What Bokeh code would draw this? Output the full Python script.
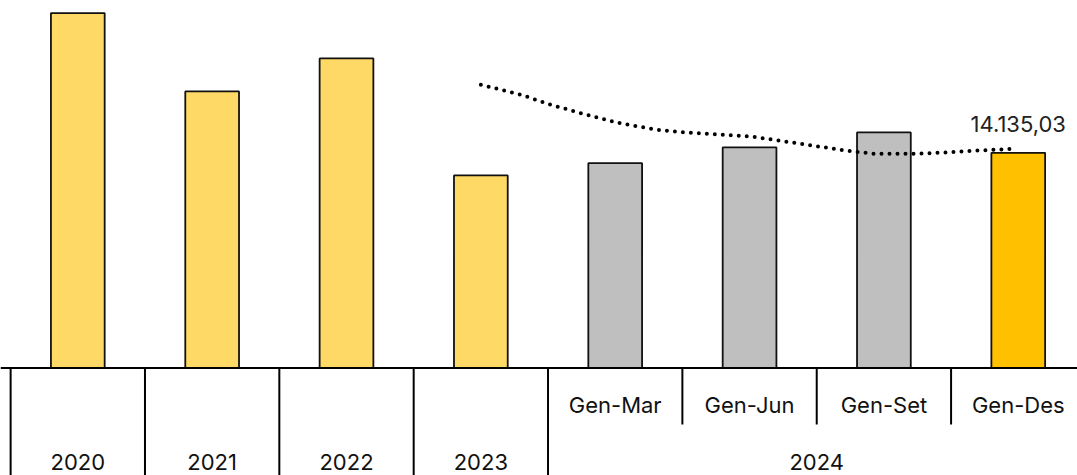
from bokeh.plotting import figure
from bokeh.models import Range1d, ColumnDataSource, Span
from bokeh.core.properties import value
from bokeh.embed import file_html
from bokeh.resources import INLINE

# ---- data ----
categories = ["2020", "2021", "2022", "2023", "Gen-Mar", "Gen-Jun", "Gen-Set", "Gen-Des"]
values = [23310, 18166, 20334, 12647, 13455, 14487, 15472, 14135.03]
bar_colors = ["#FFD966", "#FFD966", "#FFD966", "#FFD966", "#BFBFBF", "#BFBFBF", "#BFBFBF", "#FFC000"]
year_labels = ["2020", "2021", "2022", "2023"]
group_label = "2024"
sub_labels = ["Gen-Mar", "Gen-Jun", "Gen-Set", "Gen-Des"]
value_label = "14.135,03"

# dotted trend line (x in category index units)
trend_x = [3.0, 3.30, 3.52, 3.76, 4.02, 4.31, 4.56, 5.03, 5.43, 5.68, 5.92, 6.18, 6.42, 6.67, 6.96]
trend_y = [18604, 17947, 17290, 16698, 16106, 15646, 15446, 15186, 14660, 14331, 14068, 14068, 14135, 14266, 14397]

FONT = "Inter"
n = len(categories)
idx = list(range(n))

p = figure(width=1077, height=475, output_backend="svg", toolbar_location=None,
           x_range=Range1d(-0.5754, 7.441), y_range=Range1d(-7061, 24137),
           min_border=0)
p.xaxis.visible = False
p.yaxis.visible = False
p.grid.visible = False
p.outline_line_color = None
p.background_fill_color = "white"
p.border_fill_color = "white"

src = ColumnDataSource(dict(x=idx, top=values, color=bar_colors))
p.vbar(x="x", top="top", bottom=0, width=0.40, fill_color="color",
       line_color="#111111", line_width=1.8, source=src)

# trend
p.line(trend_x, trend_y, line_color="black", line_width=4, line_dash="0 8", line_cap="round")

# value label on last bar
p.text(x=[idx[-1]], y=[values[-1]], text=[value_label], text_align="center",
       text_baseline="alphabetic", y_offset=-29, text_font=value(FONT),
       text_font_size="22px", text_color="#222222")

# table under the axis
p.add_layout(Span(location=0, dimension="width", line_color="black", line_width=2))
ny = len(year_labels)
full_x = [i - 0.5 for i in range(ny + 1)]
p.segment(x0=full_x, y0=[0] * len(full_x), x1=full_x, y1=[-7061] * len(full_x),
          line_color="black", line_width=2)
short_x = [i + 0.5 for i in range(ny, n - 1)]
p.segment(x0=short_x, y0=[0] * len(short_x), x1=short_x, y1=[-3711] * len(short_x),
          line_color="black", line_width=2)

p.text(x=idx[:ny], y=[-6207] * ny, text=year_labels, text_align="center",
       text_baseline="middle", text_font=value(FONT), text_font_size="22px", text_color="#111111")
p.text(x=idx[ny:], y=[-2463] * (n - ny), text=sub_labels, text_align="center",
       text_baseline="middle", text_font=value(FONT), text_font_size="22px", text_color="#111111")
p.text(x=[(ny - 0.5 + n - 0.5) / 2], y=[-6207], text=[group_label], text_align="center",
       text_baseline="middle", text_font=value(FONT), text_font_size="22px", text_color="#111111")

open("out.html", "w").write(file_html(p, INLINE))
